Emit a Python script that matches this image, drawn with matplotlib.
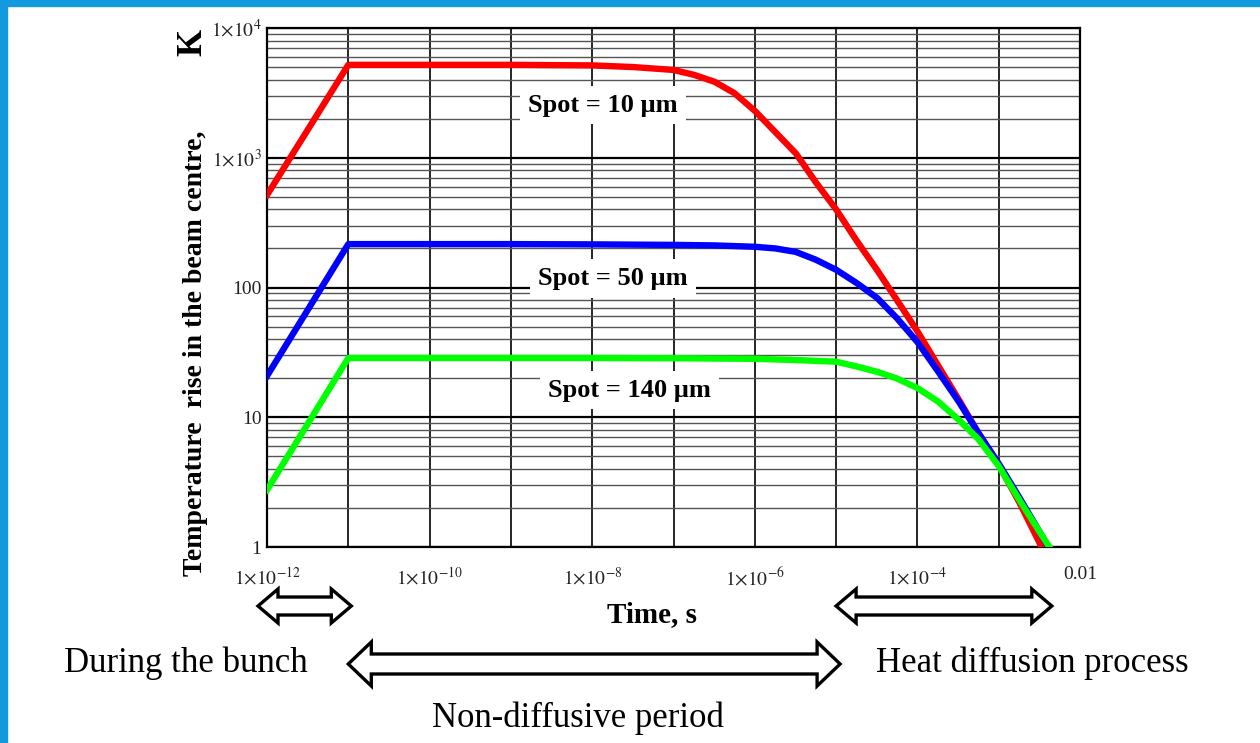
import matplotlib.pyplot as plt
from matplotlib.patches import Polygon, Rectangle
from matplotlib.ticker import FixedLocator, FixedFormatter, LogLocator, NullFormatter, NullLocator

plt.rcParams['font.family'] = ['Liberation Serif', 'DejaVu Serif']
plt.rcParams['mathtext.fontset'] = 'stix'

# values (time in s, temperature rise in K)
t_red = [1e-12, 1e-11, 1e-9, 1e-8, 3.2e-8, 1e-7, 1.8e-7, 3.2e-7, 5.6e-7, 1e-6,
         1.8e-6, 3.2e-6, 5.6e-6, 1e-5, 1.8e-5, 3.2e-5, 5.6e-5, 1e-4, 1.8e-4,
         3.2e-4, 5.6e-4, 1e-3, 1.8e-3, 3.37e-3]
T_red = [516, 5200, 5200, 5150, 5000, 4750, 4350, 3850, 3150, 2300,
         1570, 1080, 650, 400, 228, 136, 80, 46, 25,
         13.8, 7.6, 4.3, 2.2, 1.0]

t_blue = [1e-12, 1e-11, 1e-9, 1e-8, 1e-7, 3.2e-7, 1e-6, 1.8e-6, 3.2e-6, 5.6e-6,
          1e-5, 1.8e-5, 3.2e-5, 5.6e-5, 1e-4, 1.8e-4, 3.2e-4, 5.6e-4, 1e-3,
          1.8e-3, 3.2e-3, 4.1e-3]
T_blue = [20.8, 216, 216, 215, 213, 211, 206, 200, 188, 164,
          137, 108, 83, 58, 38, 22.5, 13.3, 7.6, 4.4,
          2.4, 1.3, 1.0]

t_green = [1e-12, 1e-11, 1e-8, 1e-7, 1e-6, 3.2e-6, 1e-5, 1.8e-5, 3.2e-5, 5.6e-5,
           1e-4, 1.8e-4, 3.2e-4, 5.6e-4, 1e-3, 1.8e-3, 3.2e-3, 4.2e-3]
T_green = [2.75, 28.6, 28.6, 28.5, 28.2, 27.6, 26.8, 24.6, 22.4, 19.9,
           16.8, 13.2, 9.6, 6.8, 4.2, 2.3, 1.3, 1.0]

spot_labels = ['Spot = 10 \u00b5m', 'Spot = 50 \u00b5m', 'Spot = 140 \u00b5m']
label_t = [1.35e-8, 1.8e-8, 2.9e-8]
label_T = [2550, 118, 16.2]

x_ticks = [1e-12, 1e-11, 1e-10, 1e-9, 1e-8, 1e-7, 1e-6, 1e-5, 1e-4, 1e-3, 1e-2]
x_tick_labels = [r'$1{\times}10^{-12}$', '', r'$1{\times}10^{-10}$', '', r'$1{\times}10^{-8}$', '',
                 r'$1{\times}10^{-6}$', '', r'$1{\times}10^{-4}$', '', '0.01']
y_ticks = [1, 10, 100, 1e3, 1e4]
y_tick_labels = ['1', '10', '100', r'$1{\times}10^{3}$', r'$1{\times}10^{4}$']

# bunch / non-diffusive / diffusion period edges
period_edges = [1e-12, 1e-11, 1e-5, 4.5e-3]

W, H = 1260, 743
fig = plt.figure(figsize=(W / 100, H / 100), dpi=100)
fig.patch.set_facecolor('white')


def fx(x):
    return x / W


def fy(y):
    return 1 - y / H


ax = fig.add_axes([fx(267), fy(547), fx(1080) - fx(267), fy(28) - fy(547)])
ax.set_xscale('log')
ax.set_yscale('log')
ax.set_xlim(1e-12, 1e-2)
ax.set_ylim(1, 1e4)

ax.xaxis.set_major_locator(FixedLocator(x_ticks))
ax.xaxis.set_major_formatter(FixedFormatter(x_tick_labels))
ax.xaxis.set_minor_locator(NullLocator())
ax.yaxis.set_major_locator(FixedLocator(y_ticks))
ax.yaxis.set_major_formatter(FixedFormatter(y_tick_labels))
ax.yaxis.set_minor_locator(LogLocator(base=10, subs=range(2, 10), numticks=20))
ax.yaxis.set_minor_formatter(NullFormatter())

ax.grid(True, which='major', axis='x', color='black', lw=1.2)
ax.grid(True, which='major', axis='y', color='black', lw=1.6)
ax.grid(True, which='minor', axis='y', color='#555555', lw=1.0)
ax.set_axisbelow(True)
ax.tick_params(which='both', length=0, labelsize=14, labelcolor='#222222')
ax.tick_params(axis='x', pad=14)
ax.tick_params(axis='y', pad=4)
for s in ax.spines.values():
    s.set_linewidth(1.6)

ax.plot(t_red, T_red, color='#ff0000', lw=4.6, zorder=3, solid_joinstyle='round')
ax.plot(t_blue, T_blue, color='#0000ff', lw=4.6, zorder=4, solid_joinstyle='round')
ax.plot(t_green, T_green, color='#00ff00', lw=4.6, zorder=5, solid_joinstyle='round')

for s, tx, ty in zip(spot_labels, label_t, label_T):
    ax.text(tx, ty, s, fontsize=19, fontweight='bold', ha='center', va='center', zorder=2,
            bbox=dict(boxstyle='square,pad=0.3', fc='white', ec='none'))

# axis titles
fig.text(fx(652), fy(615), 'Time, s', fontsize=21, fontweight='bold', ha='center', va='center')
fig.text(fx(195), fy(576), 'Temperature  rise in the beam centre,', fontsize=20, fontweight='bold',
         rotation=90, ha='center', va='bottom')
fig.text(fx(193), fy(42), 'K', fontsize=25, fontweight='bold', rotation=90, ha='center', va='center')


def double_arrow(x0, x1, yc, shaft, head, head_len):
    pts = [(x0, yc), (x0 + head_len, yc - head), (x0 + head_len, yc - shaft),
           (x1 - head_len, yc - shaft), (x1 - head_len, yc - head), (x1, yc),
           (x1 - head_len, yc + head), (x1 - head_len, yc + shaft),
           (x0 + head_len, yc + shaft), (x0 + head_len, yc + head)]
    pts = [(fx(x), fy(y)) for x, y in pts]
    fig.add_artist(Polygon(pts, closed=True, transform=fig.transFigure, fc='white',
                           ec='black', lw=2.4, joinstyle='miter'))


px = [ax.transData.transform((t, 1))[0] for t in period_edges]
double_arrow(px[0] - 9, px[1] + 3, 606, 9, 17, 20)
double_arrow(px[1], px[2] + 4, 664, 10, 22, 23)
double_arrow(px[2], px[3], 606, 9, 17, 20)

fig.text(fx(186), fy(663), 'During the bunch', fontsize=25, ha='center', va='center')
fig.text(fx(1032), fy(663), 'Heat diffusion process', fontsize=25, ha='center', va='center')
fig.text(fx(578), fy(718), 'Non-diffusive period', fontsize=25, ha='center', va='center')

# blue frame of the slide
fig.add_artist(Rectangle((0, 0), fx(7), 1, transform=fig.transFigure, color='#1399dd'))
fig.add_artist(Rectangle((0, fy(6)), 1, 6 / H, transform=fig.transFigure, color='#1399dd'))

fig.savefig('out.png', dpi=100, facecolor='white')
